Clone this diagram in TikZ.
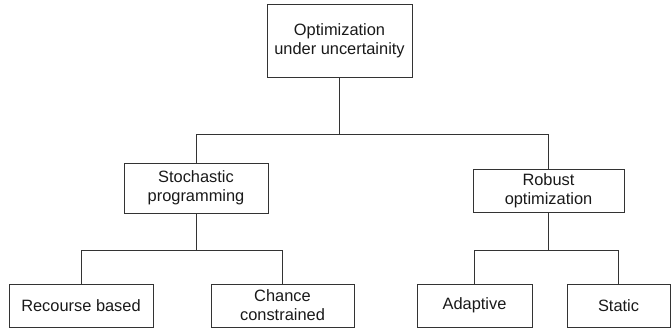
\documentclass[tikz,border=0pt]{standalone}
\usepackage{fontspec}
\setmainfont{Liberation Sans}
\begin{document}
\begin{tikzpicture}[x=1pt,y=-1pt,
  box/.style={draw=black!80, line width=0.9pt, inner sep=0pt, align=center, text=black!90,
    font=\fontsize{16.4}{19}\selectfont},
  link/.style={draw=black!80, line width=0.9pt}]
\useasboundingbox (0,0) rectangle (671,328);
\node[box, minimum width=145pt, minimum height=73pt] (top) at (339.5,40.5) {Optimization\\under uncertainity};
\node[box, minimum width=144pt, minimum height=50pt] (st) at (196,188) {Stochastic\\programming};
\node[box, minimum width=151pt, minimum height=43pt] (rb) at (548.5,190.5) {Robust\\optimization};
\node[box, minimum width=144pt, minimum height=43pt] (rc) at (81,305.5) {Recourse based};
\node[box, minimum width=143pt, minimum height=43pt] (ch) at (282.5,305.5) {Chance\\constrained};
\node[box, minimum width=115pt, minimum height=43pt] (ad) at (474.5,305.5) {Adaptive};
\node[box, minimum width=103pt, minimum height=43pt] (sc) at (618.5,305.5) {Static};
\coordinate (j1) at (339.5,134);
\coordinate (j2) at (196,250);
\coordinate (j3) at (548.5,250);
\draw[link] (top.south) -- (j1);
\draw[link] (st.north) -- (st.north |- j1) -- (rb.north |- j1) -- (rb.north);
\draw[link] (st.south) -- (j2);
\draw[link] (rc.north) -- (rc.north |- j2) -- (ch.north |- j2) -- (ch.north);
\draw[link] (rb.south) -- (j3);
\draw[link] (ad.north) -- (ad.north |- j3) -- (sc.north |- j3) -- (sc.north);
\end{tikzpicture}
\end{document}
